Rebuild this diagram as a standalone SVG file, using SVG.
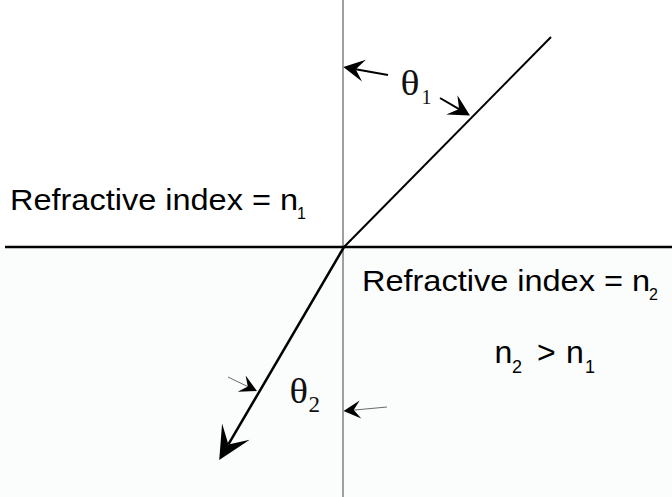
<svg xmlns="http://www.w3.org/2000/svg" width="672" height="497" viewBox="0 0 672 497">
  <style>
    .lbl { font-family: "Liberation Sans", Arial, sans-serif; fill: #000; }
    .grk { font-family: "Liberation Serif", "Times New Roman", serif; fill: #111; }
    .ray { stroke: #000; fill: none; stroke-linecap: butt; }
    .thin { stroke: #6a6a6a; stroke-width: 1; fill: none; }
    .ang { stroke: #000; stroke-width: 2; fill: none; }
  </style>
  <defs>
    <marker id="head-lg" markerUnits="userSpaceOnUse" viewBox="0 0 33 32" markerWidth="33" markerHeight="32" refX="14.85" refY="16" orient="auto" overflow="visible">
      <path d="M0,0 L33,16 L0,32 L14.85,16 Z" fill="#000"/>
    </marker>
    <marker id="head-sm" markerUnits="userSpaceOnUse" viewBox="0 0 21 22" markerWidth="21" markerHeight="22" refX="8.4" refY="11" orient="auto" overflow="visible">
      <path d="M0,0 L21,11 L0,22 L8.4,11 Z" fill="#000"/>
    </marker>
    <marker id="head-xs" markerUnits="userSpaceOnUse" viewBox="0 0 17 18" markerWidth="17" markerHeight="18" refX="6.8" refY="9" orient="auto" overflow="visible">
      <path d="M0,0 L17,9 L0,18 L6.8,9 Z" fill="#000"/>
    </marker>
  </defs>

  <rect x="0" y="0" width="672" height="497" fill="#ffffff"/>
  <rect id="medium2" x="0" y="247" width="672" height="250" fill="#fbfcfc"/>

  <g id="axes">
    <line x1="343" y1="0" x2="343" y2="497" stroke="#808080" stroke-width="1.5"/>
    <line x1="5" y1="247" x2="672" y2="247" stroke="#000" stroke-width="2.5"/>
  </g>

  <g id="connectors">
    <line id="incident" class="ray" x1="551" y1="37" x2="344" y2="247" stroke-width="2"/>
    <line id="refracted" class="ray" x1="344" y1="247" x2="228.4" y2="444.4" stroke-width="2.5" marker-end="url(#head-lg)"/>
    <line id="arrow-a" class="ang" x1="388" y1="75" x2="355.7" y2="69.2" marker-end="url(#head-sm)"/>
    <line id="arrow-b" class="ang" x1="440" y1="98" x2="459.1" y2="109.1" marker-end="url(#head-sm)"/>
    <line id="arrow-c" class="thin" x1="228" y1="377" x2="247.8" y2="386.6" marker-end="url(#head-xs)"/>
    <line id="arrow-d" class="thin" x1="387" y1="407" x2="353.7" y2="410.1" marker-end="url(#head-xs)"/>
  </g>

  <g id="label-n1">
    <text class="lbl" x="10" y="210" font-size="30" textLength="288" lengthAdjust="spacingAndGlyphs">Refractive index = n</text>
    <text class="lbl" x="297" y="218.5" font-size="16">1</text>
  </g>
  <g id="label-n2">
    <text class="lbl" x="362" y="291" font-size="30" textLength="288" lengthAdjust="spacingAndGlyphs">Refractive index = n</text>
    <text class="lbl" x="649" y="299.5" font-size="16">2</text>
  </g>
  <g id="label-ineq">
    <text class="lbl" x="494.5" y="363" font-size="32">n</text>
    <text class="lbl" x="512" y="373" font-size="18">2</text>
    <text class="lbl" x="537" y="363" font-size="32">&gt;</text>
    <text class="lbl" x="566" y="363" font-size="32">n</text>
    <text class="lbl" x="585" y="373" font-size="18">1</text>
  </g>
  <g id="theta1">
    <text class="grk" x="400.5" y="95" font-size="35" textLength="19" lengthAdjust="spacingAndGlyphs">θ</text>
    <text class="grk" x="421.5" y="104" font-size="20">1</text>
  </g>
  <g id="theta2">
    <text class="grk" x="289.5" y="403" font-size="35" textLength="18.5" lengthAdjust="spacingAndGlyphs">θ</text>
    <text class="grk" x="308.5" y="412" font-size="23">2</text>
  </g>
</svg>
